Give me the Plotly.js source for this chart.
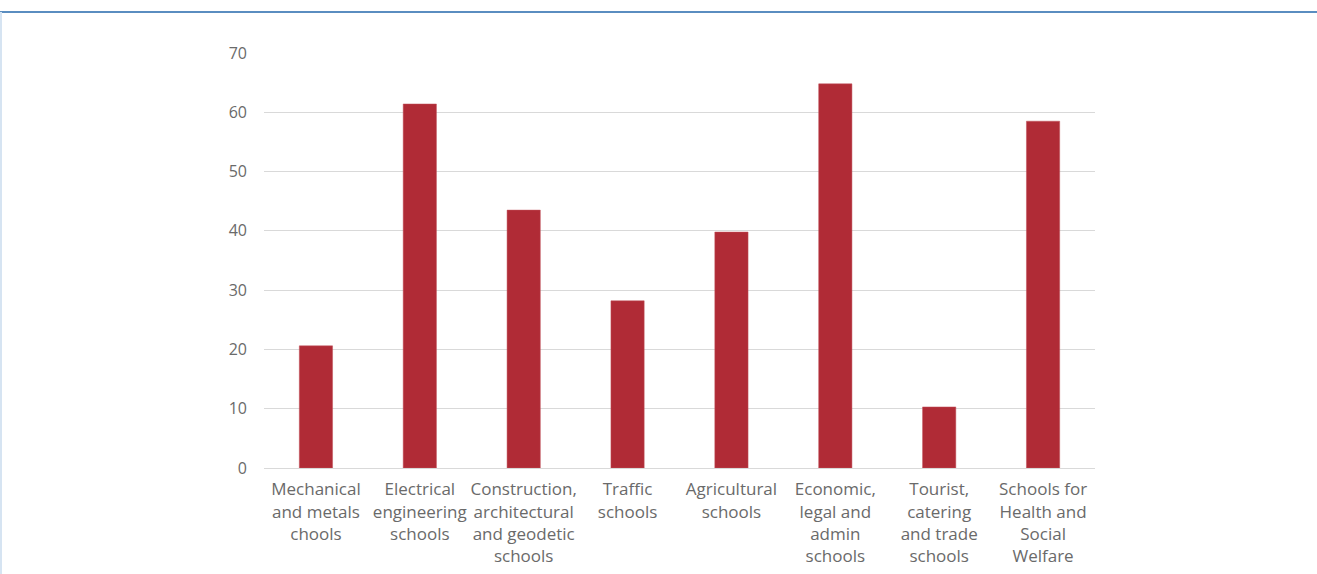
<!DOCTYPE html>
<html>
<head>
<meta charset="utf-8">
<script src="https://cdn.plot.ly/plotly-3.0.1.min.js"></script>
<style>html,body{margin:0;padding:0;background:#fff;}#chart{width:1317px;height:574px;}</style>
</head>
<body>
<div id="chart"></div>
<script>
const categories = [
  "Mechanical<br>and metals<br>chools",
  "Electrical<br>engineering<br>schools",
  "Construction,<br>architectural<br>and geodetic<br>schools",
  "Traffic<br>schools",
  "Agricultural<br>schools",
  "Economic,<br>legal and<br>admin<br>schools",
  "Tourist,<br>catering<br>and trade<br>schools",
  "Schools for<br>Health and<br>Social<br>Welfare"
];
const values = [20.6, 61.4, 43.5, 28.2, 39.8, 64.8, 10.3, 58.5];
const yTicks = [0, 10, 20, 30, 40, 50, 60, 70];

const trace = {
  type: "bar",
  x: categories,
  y: values,
  marker: {color: "#b02b36", line: {color: "#c0505a", width: 0.5}},
  hoverinfo: "x+y"
};

const layout = {
  width: 1317,
  height: 574,
  margin: {l: 264, r: 222, t: 53, b: 106},
  paper_bgcolor: "#ffffff",
  plot_bgcolor: "#ffffff",
  bargap: 0.68,
  showlegend: false,
  font: {family: "Open Sans, Lato, sans-serif", size: 16, color: "#6a6a6a"},
  xaxis: {
    type: "category",
    showgrid: false,
    showline: true,
    linecolor: "#d9d9d9",
    linewidth: 1,
    ticks: "",
    tickangle: 0,
    ticklabelstandoff: 6,
    tickfont: {family: "Open Sans, sans-serif", size: 17, color: "#6a6a6a"}
  },
  yaxis: {
    range: [0, 70],
    tickvals: yTicks,
    ticktext: yTicks.map(String),
    showgrid: true,
    gridcolor: "#d9d9d9",
    gridwidth: 1,
    zeroline: false,
    showline: false,
    ticks: "",
    ticklabelstandoff: 16,
    tickfont: {family: "Open Sans, sans-serif", size: 16, color: "#6a6a6a"}
  },
  shapes: [
    {type: "line", xref: "paper", yref: "paper", x0: -264/831, x1: (1317-264)/831, y0: (468-12)/415, y1: (468-12)/415,
     line: {color: "#5a8dc0", width: 2}},
    {type: "line", xref: "paper", yref: "paper", x0: -263/831, x1: -263/831, y0: (468-574)/415, y1: (468-12)/415,
     line: {color: "#d6e4f2", width: 2}}
  ]
};

Plotly.newPlot("chart", [trace], layout, {displayModeBar: false, staticPlot: true});
</script>
</body>
</html>
